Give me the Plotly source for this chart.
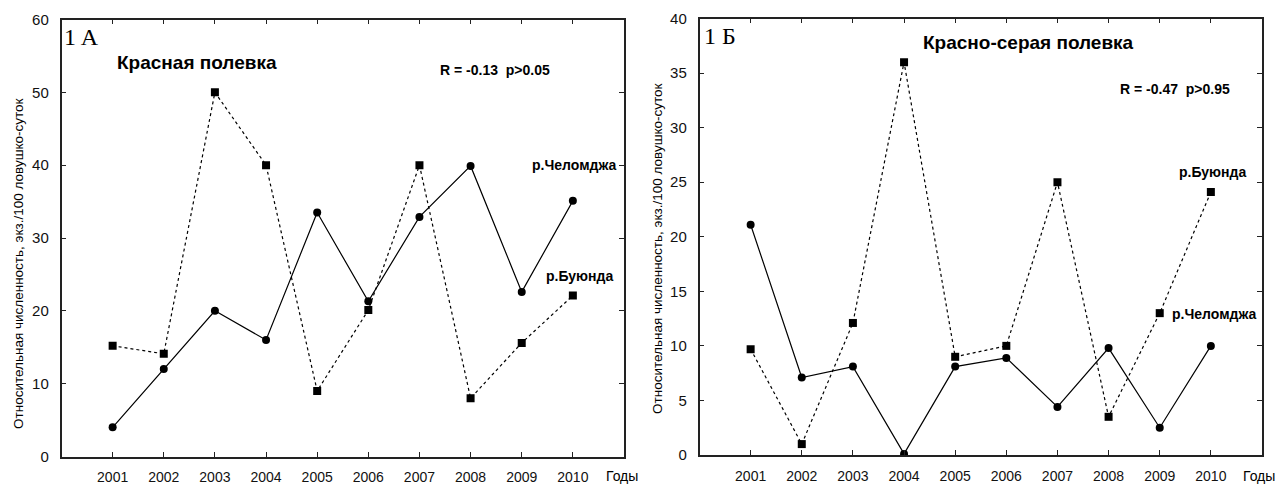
import plotly.graph_objects as go

years = [2001, 2002, 2003, 2004, 2005, 2006, 2007, 2008, 2009, 2010]

# Panel 1 A — Красная полевка
red_chelomdzha = [4, 12, 20, 16, 33.5, 21.3, 32.9, 39.9, 22.6, 35.1]
red_buyunda = [15.2, 14.1, 50, 40, 9, 20.1, 40, 8, 15.6, 22.1]

# Panel 1 Б — Красно-серая полевка
grey_chelomdzha = [21.1, 7.1, 8.1, 0.1, 8.1, 8.9, 4.4, 9.8, 2.5, 10.0]
grey_buyunda = [9.7, 1.0, 12.1, 36.0, 9.0, 10.0, 25.0, 3.5, 13.0, 24.1]

W, H = 1277, 484
FONT = "Arial, Liberation Sans, sans-serif"
SERIF = "Times New Roman, Liberation Serif, serif"
AX = "#222"

def px(x):
    return x / W

def py(y):
    return 1 - y / H

fig = go.Figure()

def add_pair(sol, dash, xa, ya):
    fig.add_trace(go.Scatter(
        x=years, y=dash, mode="lines+markers", xaxis=xa, yaxis=ya,
        line=dict(color="black", width=1.2, dash="3px,3px"),
        marker=dict(symbol="square", size=8, color="black"),
        showlegend=False))
    fig.add_trace(go.Scatter(
        x=years, y=sol, mode="lines+markers", xaxis=xa, yaxis=ya,
        line=dict(color="black", width=1.2),
        marker=dict(symbol="circle", size=8, color="black"),
        showlegend=False))

add_pair(red_chelomdzha, red_buyunda, "x", "y")
add_pair(grey_chelomdzha, grey_buyunda, "x2", "y2")

xcommon = dict(range=[2000, 2011], tickvals=years, ticktext=[str(y) for y in years],
               showline=True, linecolor=AX, linewidth=1.5, mirror="ticks",
               ticks="inside", ticklen=5, tickcolor=AX, showgrid=False, zeroline=False,
               automargin=False,
               tickfont=dict(family=FONT, size=14, color="#111"), ticklabelstandoff=7)
ycommon = dict(showline=True, linecolor=AX, linewidth=1.5, mirror="ticks",
               ticks="inside", ticklen=5, tickcolor=AX, showgrid=False, zeroline=False,
               automargin=False,
               tickfont=dict(family=FONT, size=15, color="#111"), ticklabelstandoff=8)

fig.update_layout(
    width=W, height=H, margin=dict(l=0, r=0, t=0, b=0, pad=0, autoexpand=False),
    paper_bgcolor="white", plot_bgcolor="white",
    xaxis=dict(domain=[px(61.5), px(624)], anchor="y", **xcommon),
    yaxis=dict(domain=[py(456.5), py(19.5)], anchor="x", range=[0, 60],
               tickvals=[0, 10, 20, 30, 40, 50, 60], **ycommon),
    xaxis2=dict(domain=[px(699.5), px(1262)], anchor="y2", **xcommon),
    yaxis2=dict(domain=[py(455), py(18.5)], anchor="x2", range=[0, 40],
                tickvals=[0, 5, 10, 15, 20, 25, 30, 35, 40], **ycommon),
)

def ann(text, x, y, size=12, bold=True, family=FONT, angle=0, xanchor="center"):
    fig.add_annotation(text=("<b>%s</b>" % text) if bold else text,
                       x=px(x), y=py(y), xref="paper", yref="paper",
                       xanchor=xanchor, yanchor="middle", showarrow=False,
                       textangle=angle,
                       font=dict(family=family, size=size, color="black"))

NB = "\u00a0"
# Panel A texts
ann("1 A", 81.5, 37, size=24, bold=False, family=SERIF)
ann("Красная полевка", 197, 62, size=19)
ann("R =" + NB + "-0.13" + NB * 2 + "p>0.05", 494.5, 70, size=14)
ann("р.Челомджа", 574, 165, size=14)
ann("р.Буюнда", 579.5, 276, size=14)
ann("Относительная численность, экз./100 ловушко-суток", 18, 264, size=13.5,
    bold=False, angle=-90)
ann("Годы", 621.5, 476, size=14, bold=False)

# Panel Б texts
ann("1 Б", 720, 36, size=24, bold=False, family=SERIF)
ann("Красно-серая полевка", 1028.5, 43, size=19)
ann("R =" + NB + "-0.47" + NB * 2 + "p>0.95", 1175, 89, size=14)
ann("р.Буюнда", 1212.5, 172, size=14)
ann("р.Челомджа", 1214, 314, size=14)
ann("Относительная численность, экз./100 ловушко-суток", 657, 249, size=13.5,
    bold=False, angle=-90)
ann("Годы", 1259, 476, size=14, bold=False)

fig.write_html(
    "out.html",
    config={"displayModeBar": False},
    post_script="document.body.style.margin='0';document.body.style.overflow='hidden';",
)
